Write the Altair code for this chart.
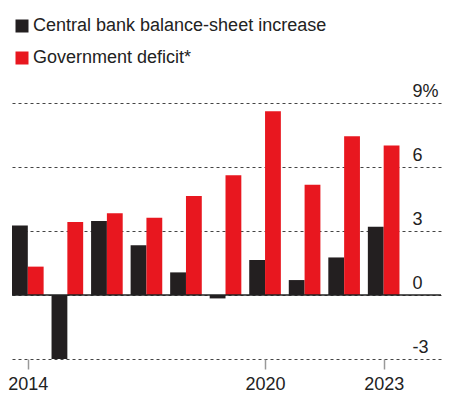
import altair as alt
import pandas as pd

years = list(range(2014, 2024))
central_bank = [3.26, -3.0, 3.47, 2.33, 1.06, -0.16, 1.64, 0.70, 1.76, 3.20]
gov_deficit = [1.33, 3.42, 3.83, 3.62, 4.64, 5.61, 8.61, 5.17, 7.44, 7.01]
series_names = ["Central bank balance-sheet increase", "Government deficit*"]
series_colors = ["#231f20", "#e8171f"]
y_ticks = [-3, 0, 3, 6, 9]
x_ticks = [2014, 2020, 2023]

rows = []
for i, yr in enumerate(years):
    rows.append({"year": yr, "series": series_names[0], "value": central_bank[i], "order": 0})
    rows.append({"year": yr, "series": series_names[1], "value": gov_deficit[i], "order": 1})
df = pd.DataFrame(rows)

FONT = "Liberation Sans"
TXT = "#222222"

x_scale = alt.Scale(domain=[2013.6, 2024.45], nice=False, zero=False)
y_scale = alt.Scale(domain=[-3, 9], nice=False, zero=False)

bars = alt.Chart(df).transform_calculate(
    x0="datum.year + (datum.order == 0 ? -0.4 : 0)",
    x1="datum.year + (datum.order == 0 ? 0 : 0.4)",
).mark_bar().encode(
    x=alt.X("x0:Q", scale=x_scale, title=None,
            axis=alt.Axis(values=x_ticks, format="d", grid=False, domain=False,
                          ticks=True, tickSize=10, tickColor="#999999", tickWidth=1.5,
                          labelPadding=6, labelFontSize=18, labelFont=FONT,
                          labelColor=TXT)),
    x2="x1:Q",
    y=alt.Y("value:Q", scale=y_scale, title=None,
            axis=alt.Axis(values=y_ticks, orient="right", grid=True, gridDash=[3, 3],
                          gridColor="#444444", gridWidth=1, ticks=False, domain=False,
                          labelAlign="left", labelPadding=-29, labelBaseline="alphabetic",
                          labelOffset=-7, labelFontSize=18, labelFont=FONT, labelColor=TXT,
                          labelExpr="datum.value == 9 ? '9%' : (datum.value < 0 ? '-' + abs(datum.value) : '' + datum.value)")),
    y2=alt.datum(0),
    color=alt.Color("series:N", scale=alt.Scale(domain=series_names, range=series_colors),
                    legend=alt.Legend(orient="none", legendX=1, legendY=-86, direction="vertical",
                                      title=None, symbolType="square", symbolSize=169,
                                      symbolStrokeWidth=0, labelFontSize=18, labelFont=FONT,
                                      labelColor=TXT, rowPadding=14, padding=0, labelOffset=2,
                                      labelLimit=400)),
)

zero = alt.Chart(pd.DataFrame({"z": [0]})).mark_rule(color="#222222", strokeWidth=1.5).encode(
    y=alt.Y("z:Q", scale=y_scale)
)

chart = alt.layer(bars, zero).properties(
    width=429, height=256,
    autosize=alt.AutoSizeParams(type="none"),
    padding={"left": 12, "top": 103, "right": 9, "bottom": 34},
).configure_view(stroke=None)

chart.save("out.html", embed_options={"renderer": "svg", "actions": False})
